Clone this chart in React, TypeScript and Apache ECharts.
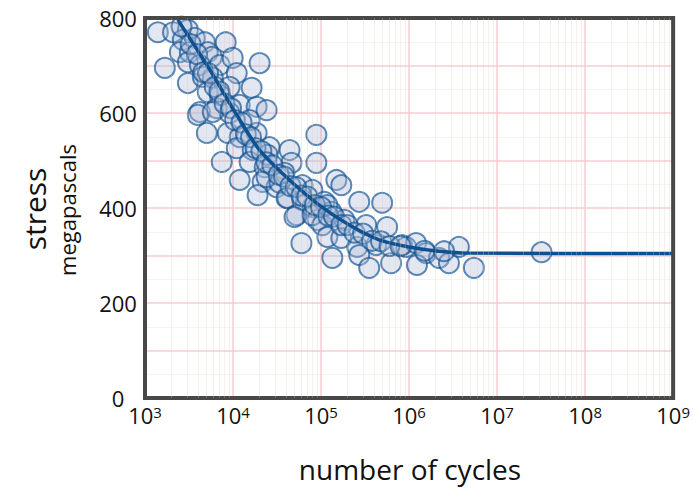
import React, { useEffect, useRef } from "react";
import * as echarts from "echarts";

// Scatter measurements: cycles to failure and stress (MPa)
const cycles = [
  1400, 2080, 3070, 2690, 3680, 4780, 8260, 2490, 3230, 5160, 5740, 1680, 3070, 4200, 7060,
  9910, 20050, 3070, 4540, 5890, 11020, 9160, 16260, 5160, 7060, 4200, 6530, 11910, 18550,
  3980, 5890, 9160, 5040, 8710, 11910, 18550, 15450, 24050, 11020, 16710, 26000, 7450, 15450,
  22850, 11910, 21680, 19010, 31190, 88500, 24660, 43850, 46150, 88500, 24050, 38460, 41590,
  61520, 79800, 149300, 52600, 79800, 109100, 91000, 130900, 33730, 169900, 40550, 61520,
  49890, 79800, 118000, 271500, 494300, 103500, 183700, 325900, 563300, 59840, 118000, 169900,
  257600, 422700, 833400, 134300, 271500, 352400, 625200, 924700, 1200000, 1560000, 2190000,
  2840000, 3680000, 1230000, 5450000, 32000000,
  2600, 3300, 3900, 4600, 5200, 6200, 7000, 8000, 9500, 10500, 12500, 14000, 16000, 18000,
  21000, 24000, 28000, 33000, 38000, 45000, 52000, 60000, 70000, 85000, 100000, 120000,
  140000, 170000, 200000, 240000, 300000, 380000, 480000, 600000, 800000, 1500000, 2500000,
];
const stress = [
  770, 770, 775, 754, 758, 749, 749, 728, 728, 728, 718, 695, 707, 701, 701,
  716, 705, 663, 676, 674, 684, 655, 653, 644, 638, 602, 610, 617, 613,
  596, 602, 600, 558, 558, 549, 558, 585, 606, 526, 522, 528, 497, 497,
  486, 459, 455, 427, 444, 554, 512, 522, 495, 495, 465, 474, 421,
  448, 438, 459, 385, 402, 413, 375, 392, 453, 448, 421, 417,
  381, 385, 406, 413, 411, 364, 375, 364, 360, 326, 339, 337,
  318, 322, 322, 295, 301, 274, 284, 318, 326, 305, 295,
  284, 318, 280, 274, 307,
  782, 745, 724, 686, 684, 655, 645, 620, 610, 585, 580, 555, 549, 526,
  520, 496, 490, 470, 466, 446, 444, 426, 424, 406, 402, 384,
  382, 364, 364, 348, 346, 331, 330, 320, 320, 310, 309,
];

// Fitted S-N curve
const curveCycles = [2366, 5445, 11020, 20050, 43850, 95700, 209400, 457000, 1000000, 2190000, 4780000, 1000000000];
const curveStress = [796, 691, 596, 522, 459, 406, 364, 333, 318, 309, 305, 304];

const yTicks = [0, 200, 400, 600, 800];
const xLabel = "number of cycles";
const yLabel = "stress";
const yUnit = "megapascals";

const FONT = "'Open Sans', 'DejaVu Sans', sans-serif";

export default function App() {
  const ref = useRef<HTMLDivElement>(null);
  useEffect(() => {
    document.body.style.margin = "0";
    const chart = echarts.init(ref.current!, null, { renderer: "svg" });
    const scatterData = cycles.map((c, i) => [c, stress[i]]);
    const curveData = curveCycles.map((c, i) => [c, curveStress[i]]);
    const minorVals: number[] = [];
    for (let d = 3; d < 9; d++) {
      for (let m = 2; m <= 9; m++) minorVals.push(m * Math.pow(10, d));
    }
    chart.setOption({
      animation: false,
      backgroundColor: "#ffffff",
      grid: {
        left: 145,
        right: 18,
        top: 18,
        bottom: 96,
        show: true,
        borderColor: "#484848",
        borderWidth: 4,
        z: 5,
      },
      xAxis: {
        type: "log",
        logBase: 10,
        min: 1e3,
        max: 1e9,
        axisLine: { show: false },
        axisTick: { show: false },
        splitLine: { show: true, lineStyle: { color: "#f6ccd0", width: 1.5 } },
        axisLabel: {
          margin: 6,
          formatter: (v: number) => `{b|10}{s|${Math.round(Math.log10(v))}}`,
          rich: {
            b: { fontSize: 22, fontFamily: FONT, color: "#111", verticalAlign: "bottom" },
            s: { fontSize: 15, fontFamily: FONT, color: "#111", verticalAlign: "top" },
          },
        },
      },
      yAxis: {
        type: "value",
        min: 0,
        max: 800,
        interval: 100,
        axisLine: { show: false },
        axisTick: { show: false },
        splitLine: { show: true, lineStyle: { color: "#f6ccd0", width: 1.5 } },
        minorTick: { show: false, splitNumber: 2 },
        minorSplitLine: { show: true, lineStyle: { color: "rgba(215,205,190,0.22)", width: 1 } },
        axisLabel: {
          margin: 27,
          align: "center",
          fontSize: 22,
          fontFamily: FONT,
          color: "#111",
          formatter: (v: number) => (yTicks.includes(v) ? String(v) : ""),
        },
      },
      graphic: [
        {
          type: "text",
          x: 34,
          y: 209,
          rotation: Math.PI / 2,
          style: {
            text: yLabel,
            fontSize: 30,
            fontFamily: FONT,
            fill: "#111",
            align: "center",
            verticalAlign: "middle",
          },
        },
        {
          type: "text",
          x: 67,
          y: 210,
          rotation: Math.PI / 2,
          style: {
            text: yUnit,
            fontSize: 22,
            fontFamily: FONT,
            fill: "#111",
            align: "center",
            verticalAlign: "middle",
          },
        },
        {
          type: "text",
          x: 410,
          y: 469,
          style: {
            text: xLabel,
            fontSize: 28,
            fontFamily: FONT,
            fill: "#111",
            align: "center",
            verticalAlign: "middle",
          },
        },
      ],
      series: [
        {
          type: "line",
          data: curveData,
          z: 1,
          showSymbol: false,
          silent: true,
          lineStyle: { opacity: 0 },
          markLine: {
            silent: true,
            symbol: "none",
            label: { show: false },
            lineStyle: { color: "rgba(215,205,190,0.28)", width: 1, type: "solid" },
            data: minorVals.map((v) => ({ xAxis: v })),
          },
        },
        {
          type: "scatter",
          data: scatterData,
          symbol: "circle",
          symbolSize: 20,
          z: 2,
          itemStyle: {
            color: "rgba(175,189,215,0.45)",
            borderColor: "rgba(16,82,148,0.85)",
            borderWidth: 2,
          },
        },
        {
          type: "line",
          data: curveData,
          z: 3,
          showSymbol: false,
          smooth: 0.3,
          lineStyle: { color: "#0e5090", width: 3.5 },
        },
      ],
    });
    return () => chart.dispose();
  }, []);
  return <div ref={ref} style={{ width: 693, height: 494 }} />;
}
